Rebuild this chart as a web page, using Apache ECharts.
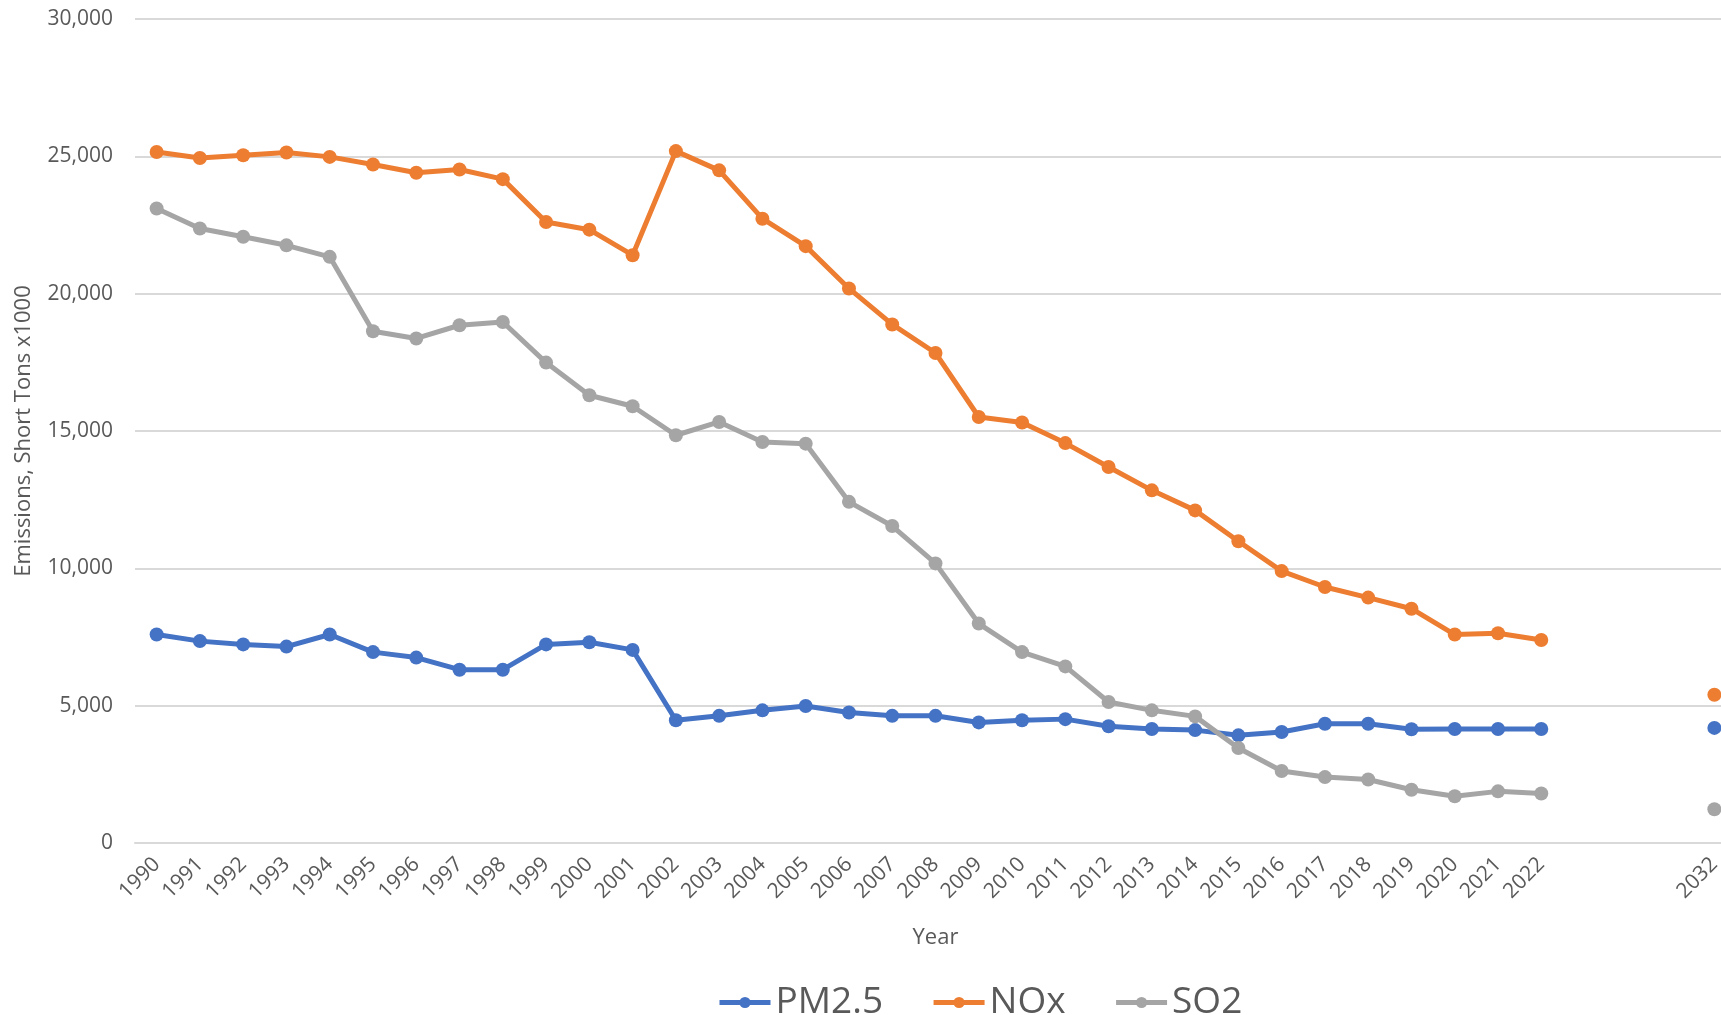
<!DOCTYPE html>
<html>
<head>
<meta charset="utf-8">
<script src="https://cdn.jsdelivr.net/npm/echarts@6/dist/echarts.min.js"></script>
<style>
html,body{margin:0;padding:0;background:#fff;}
#chart{width:1721px;height:1015px;}
</style>
</head>
<body>
<div id="chart"></div>
<script>
const years = ['1990','1991','1992','1993','1994','1995','1996','1997','1998','1999','2000','2001','2002','2003','2004','2005','2006','2007','2008','2009','2010','2011','2012','2013','2014','2015','2016','2017','2018','2019','2020','2021','2022','','','','2032'];
const pm25 = [7590,7350,7230,7150,7590,6950,6750,6310,6310,7230,7310,7030,4470,4630,4830,4990,4750,4630,4630,4390,4470,4510,4250,4150,4110,3920,4040,4340,4340,4140,4150,4150,4150,null,null,null,4190];
const nox = [25160,24940,25040,25140,24980,24700,24400,24520,24170,22610,22330,21400,25190,24490,22730,21730,20190,18880,17840,15510,15310,14560,13690,12840,12110,10985,9900,9320,8935,8530,7590,7635,7390,null,null,null,5400];
const so2 = [23100,22370,22070,21760,21340,18630,18370,18850,18970,17490,16300,15900,14845,15330,14600,14540,12420,11540,10180,7990,6950,6430,5135,4830,4610,3460,2620,2400,2310,1940,1700,1880,1800,null,null,null,1230];
const seriesNames = ['PM2.5','NOx','SO2'];
const colors = ['#4472C4','#ED7D31','#A5A5A5'];

const chart = echarts.init(document.getElementById('chart'));
const txt = '#595959';
const font = '"Open Sans", sans-serif';
function mk(name, data, color){
  return {
    name: name, type: 'line', data: data,
    symbol: 'circle', symbolSize: 14, showAllSymbol: true,
    connectNulls: false,
    lineStyle: {width: 5, color: color},
    itemStyle: {color: color},
    emphasis: {disabled: true},
    animation: false
  };
}
chart.setOption({
  animation: false,
  color: colors,
  textStyle: {fontFamily: font, color: txt},
  grid: {left: 135, top: 19, width: 1601, height: 824, containLabel: false, outerBoundsMode: 'none'},
  legend: {
    data: seriesNames,
    left: 712, top: 979,
    itemWidth: 51, itemHeight: 14, itemGap: 48,
    lineStyle: {width: 5},
    textStyle: {fontSize: 37, color: txt, fontFamily: font}
  },
  xAxis: {
    type: 'category', data: years, boundaryGap: true,
    name: 'Year', nameLocation: 'middle', nameGap: 84,
    nameTextStyle: {fontSize: 22, color: txt, fontFamily: font},
    axisLine: {show: true, lineStyle: {color: '#D9D9D9', width: 2}},
    axisTick: {show: false},
    axisLabel: {rotate: 45, fontSize: 21, color: txt, margin: 18, interval: 0, fontFamily: font}
  },
  yAxis: {
    type: 'value', min: 0, max: 30000, interval: 5000,
    name: 'Emissions, Short Tons x1000', nameLocation: 'middle', nameGap: 100,
    nameTextStyle: {fontSize: 22, color: txt, fontFamily: font},
    axisLine: {show: false}, axisTick: {show: false},
    splitLine: {lineStyle: {color: '#D9D9D9', width: 2}},
    axisLabel: {fontSize: 21, color: txt, margin: 22, fontFamily: font,
      formatter: v => v.toLocaleString('en-US')}
  },
  series: [mk(seriesNames[0], pm25, colors[0]), mk(seriesNames[1], nox, colors[1]), mk(seriesNames[2], so2, colors[2])]
});
</script>
</body>
</html>
